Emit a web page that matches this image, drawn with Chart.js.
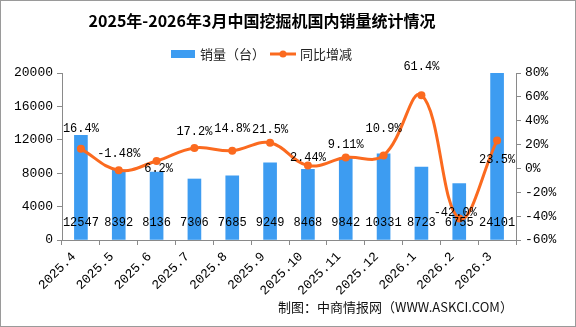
<!DOCTYPE html>
<html>
<head>
<meta charset="utf-8">
<script src="https://cdn.jsdelivr.net/npm/chart.js@4/dist/chart.umd.min.js"></script>
<style>
  html, body { margin: 0; padding: 0; background: #fff; }
  #wrap { width: 576px; height: 327px; position: relative; }
</style>
</head>
<body>
<div id="wrap"><canvas id="chart" width="576" height="327"></canvas></div>
<script>
const months = ['2025.4', '2025.5', '2025.6', '2025.7', '2025.8', '2025.9', '2025.10', '2025.11', '2025.12', '2026.1', '2026.2', '2026.3'];
const sales = [12547, 8392, 8136, 7306, 7685, 9249, 8468, 9842, 10331, 8723, 6755, 24101];
const yoy = [16.4, -1.48, 6.2, 17.2, 14.8, 21.5, 2.44, 9.11, 10.9, 61.4, -42.0, 23.5];
const yoyText = ['16.4%', '-1.48%', '6.2%', '17.2%', '14.8%', '21.5%', '2.44%', '9.11%', '10.9%', '61.4%', '-42.0%', '23.5%'];
const salesTicks = [0, 4000, 8000, 12000, 16000, 20000];
const pctTicks = [-60, -40, -20, 0, 20, 40, 60, 80];

const titleText = '2025年-2026年3月中国挖掘机国内销量统计情况';
const sourceText = '制图：中商情报网（WWW.ASKCI.COM）';

// where each yoy label sits relative to its point (px)
const yoyLabelDy = [-20, -16, 8, -16, -22, -13, -8, -13, -27, -28, -6, 19];
const yoyLabelDx = [0, 0, 2, 0, 0, 0, 0, 0, 0, 0, -4, 0];

const BAR = '#3d9cf1';
const LINE = '#fb6a1f';
const AXIS = '#8a8a8a';
const MONO = '12px "Liberation Mono", monospace';

const decor = {
    id: 'decor',
    afterDraw(chart) {
        const ctx = chart.ctx;
        ctx.save();
        // outer frame
        ctx.strokeStyle = '#9a9a9a';
        ctx.lineWidth = 1;
        ctx.strokeRect(0.5, 0.5, chart.width - 1, chart.height - 1);

        // title
        ctx.fillStyle = '#000';
        ctx.font = 'bold 16px "Noto Sans CJK SC"';
        ctx.textAlign = 'center';
        ctx.textBaseline = 'middle';
        ctx.fillText(titleText, 262, 21);

        // legend
        ctx.font = '13px "Noto Sans CJK SC"';
        ctx.textAlign = 'left';
        ctx.fillStyle = BAR;
        ctx.fillRect(171, 50, 24, 8);
        ctx.fillStyle = '#222';
        ctx.fillText(chart.data.datasets[0].label, 200, 54);
        ctx.strokeStyle = LINE;
        ctx.lineWidth = 3;
        ctx.beginPath();
        ctx.moveTo(270, 54);
        ctx.lineTo(296, 54);
        ctx.stroke();
        ctx.fillStyle = LINE;
        ctx.beginPath();
        ctx.arc(283, 54, 3.5, 0, Math.PI * 2);
        ctx.fill();
        ctx.fillStyle = '#222';
        ctx.fillText(chart.data.datasets[1].label, 300, 54);

        // value labels
        ctx.font = MONO;
        ctx.fillStyle = '#000';
        ctx.textAlign = 'center';
        const barMeta = chart.getDatasetMeta(0);
        const yAxis = chart.scales.y;
        barMeta.data.forEach((bar, i) => {
            ctx.fillText(String(sales[i]), bar.x, yAxis.bottom - 17);
        });
        const lineMeta = chart.getDatasetMeta(1);
        lineMeta.data.forEach((pt, i) => {
            ctx.fillText(yoyText[i], pt.x + yoyLabelDx[i], pt.y + yoyLabelDy[i]);
        });

        // source
        ctx.font = '13px "Noto Sans CJK SC"';
        ctx.textAlign = 'left';
        ctx.fillStyle = '#111';
        ctx.fillText(sourceText, 278, 307);
        ctx.restore();
    }
};

new Chart(
    document.getElementById('chart'),
    {
        type: 'bar',
        data: {
            labels: months,
            datasets: [
                {
                    type: 'bar',
                    label: '销量（台）',
                    data: sales,
                    backgroundColor: BAR,
                    barThickness: 13,
                    yAxisID: 'y',
                    order: 2
                },
                {
                    type: 'line',
                    label: '同比增减',
                    data: yoy,
                    borderColor: LINE,
                    backgroundColor: LINE,
                    borderWidth: 3,
                    pointRadius: 4,
                    pointBackgroundColor: LINE,
                    pointBorderWidth: 0,
                    tension: 0.4,
                    yAxisID: 'y1',
                    order: 1
                }
            ]
        },
        options: {
            responsive: false,
            animation: false,
            layout: {
                padding: { top: 73, left: 0, right: 0, bottom: 0 }
            },
            plugins: {
                legend: { display: false },
                tooltip: { enabled: false }
            },
            scales: {
                x: {
                    grid: {
                        offset: true,
                        drawOnChartArea: false,
                        tickLength: 5,
                        color: AXIS
                    },
                    border: { color: AXIS },
                    ticks: {
                        minRotation: 45,
                        maxRotation: 45,
                        labelOffset: -7,
                        padding: 4,
                        color: '#000',
                        font: { family: 'Liberation Mono', size: 13 }
                    },
                    afterFit: (scale) => { scale.height = 87; }
                },
                y: {
                    position: 'left',
                    min: 0,
                    max: 20000,
                    afterBuildTicks: (scale) => { scale.ticks = salesTicks.map(v => ({ value: v })); },
                    grid: {
                        drawOnChartArea: false,
                        tickLength: 5,
                        color: AXIS
                    },
                    border: { color: AXIS },
                    ticks: {
                        padding: 4,
                        color: '#000',
                        font: { family: 'Liberation Mono', size: 13 },
                        callback: (v) => String(v)
                    },
                    afterFit: (scale) => { scale.width = 62; }
                },
                y1: {
                    position: 'right',
                    min: -60,
                    max: 80,
                    afterBuildTicks: (scale) => { scale.ticks = pctTicks.map(v => ({ value: v })); },
                    grid: {
                        drawOnChartArea: false,
                        tickLength: 5,
                        color: AXIS
                    },
                    border: { color: AXIS },
                    ticks: {
                        padding: 4,
                        color: '#000',
                        font: { family: 'Liberation Mono', size: 13 },
                        callback: (v) => v + '%'
                    },
                    afterFit: (scale) => { scale.width = 60; }
                }
            }
        },
        plugins: [decor]
    }
);
</script>
</body>
</html>
